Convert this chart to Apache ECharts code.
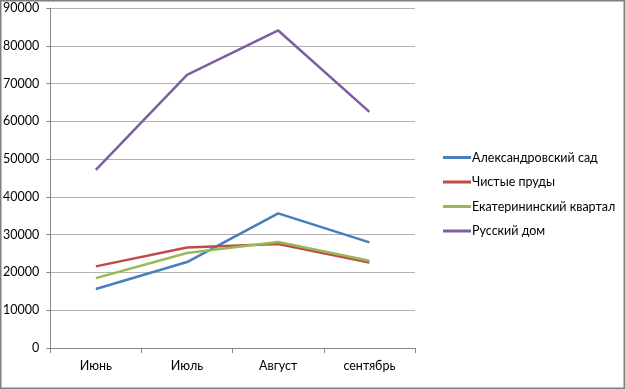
<!DOCTYPE html>
<html><head><meta charset="utf-8">
<script src="https://cdn.jsdelivr.net/npm/echarts@6/dist/echarts.min.js"></script>
<style>html,body{margin:0;padding:0;background:#fff}#c{width:625px;height:389px}</style>
</head><body><div id="c"></div>
<script>
const categories = ['Июнь', 'Июль', 'Август', 'сентябрь'];
const seriesNames = ['Александровский сад', 'Чистые пруды', 'Екатерининский квартал', 'Русский дом'];
const alexSad = [15600, 22750, 35650, 27950];
const chistyePrudy = [21600, 26600, 27550, 22650];
const ekatKvartal = [18500, 25150, 28050, 23100];
const russkiyDom = [47150, 72300, 84050, 62500];
const yTicks = {min: 0, max: 90000, interval: 10000};
const colors = ['#4A7EBB', '#BE4B48', '#98B954', '#7D5FA0'];
const dataSets = [alexSad, chistyePrudy, ekatKvartal, russkiyDom];
const font = 'Lato, "Open Sans", sans-serif';

const chart = echarts.init(document.getElementById('c'), null, {renderer: 'canvas'});
chart.setOption({
  animation: false,
  backgroundColor: '#fff',
  graphic: [{type: 'rect', shape: {x: 0.75, y: 0.75, width: 623.5, height: 387.5}, style: {fill: 'none', stroke: '#7f7f7f', lineWidth: 1.5}}],
  grid: {left: 49, right: 210, top: 8, bottom: 41, containLabel: false},
  legend: {
    orient: 'vertical', left: 438, top: 146, itemWidth: 28, itemHeight: 3, itemGap: 11.5,
    icon: 'rect',
    textStyle: {fontFamily: font, fontSize: 12.5, color: '#000', padding: [0, 0, 0, -4]},
    data: seriesNames
  },
  xAxis: {
    type: 'category', data: categories, boundaryGap: true,
    axisLine: {lineStyle: {color: '#868686', width: 1}},
    axisTick: {show: true, length: 5, lineStyle: {color: '#868686'}},
    axisLabel: {fontFamily: font, fontSize: 12.5, color: '#000', margin: 11},
    splitLine: {show: false}
  },
  yAxis: {
    type: 'value', min: yTicks.min, max: yTicks.max, interval: yTicks.interval,
    axisLine: {show: true, lineStyle: {color: '#868686', width: 1}},
    axisTick: {show: true, length: 4, inside: false, lineStyle: {color: '#868686'}},
    axisLabel: {fontFamily: font, fontSize: 12.5, color: '#000', margin: 11, formatter: v => String(v)},
    splitLine: {lineStyle: {color: '#b3b3b3', width: 1}}
  },
  series: seriesNames.map((n, i) => ({
    name: n, type: 'line', data: dataSets[i], symbol: 'none',
    lineStyle: {color: colors[i], width: 2.5}, itemStyle: {color: colors[i]}
  }))
});
</script></body></html>
